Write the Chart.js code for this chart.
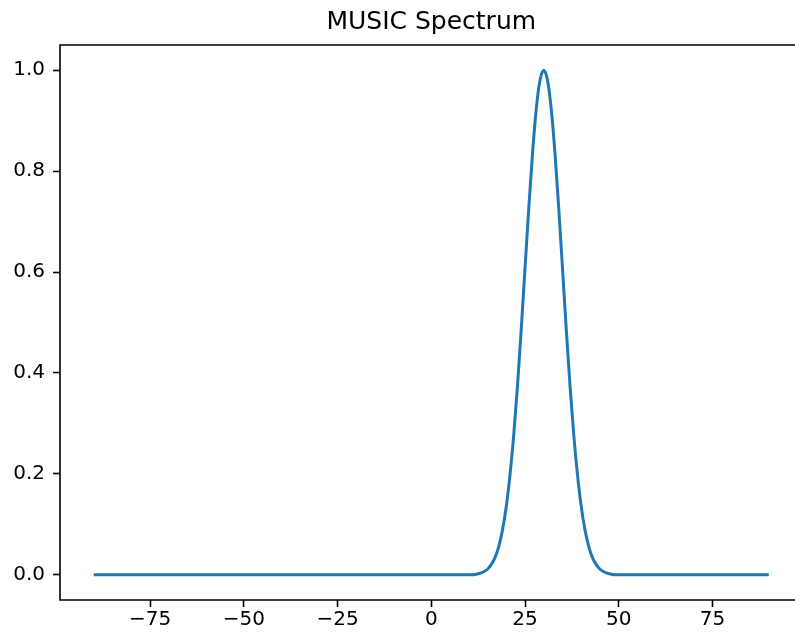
<!DOCTYPE html>
<html>
<head>
<meta charset="utf-8">
<title>MUSIC Spectrum</title>
<script src="https://cdn.jsdelivr.net/npm/chart.js@4"></script>
<style>
  html, body { margin: 0; padding: 0; background: #fff; overflow: hidden; }
  #wrap { width: 795px; height: 635px; overflow: hidden; position: relative; }
  #spectrumChart { position: absolute; left: 0; top: 0; }
</style>
</head>
<body>
<div id="wrap"><canvas id="spectrumChart" width="840" height="635"></canvas></div>
<script>
// angle grid (deg) and normalised spectrum
const angles = [-90, -80, -70, -60, -50, -40, -30, -20, -10, 0, 10,
  11, 12, 13, 14, 15, 16, 17, 18, 19, 20,
  21, 22, 23, 24, 25, 26, 27, 28, 29, 30,
  31, 32, 33, 34, 35, 36, 37, 38, 39, 40,
  41, 42, 43, 44, 45, 46, 47, 48, 49,
  50, 60, 70, 80, 90];
const spectrum = [0, 0, 0, 0, 0, 0, 0, 0, 0, 0, 0,
  0.000, 0.001, 0.003, 0.006, 0.011, 0.020, 0.034, 0.056, 0.089, 0.135,
  0.198, 0.278, 0.375, 0.487, 0.607, 0.726, 0.835, 0.923, 0.980, 1.000,
  0.980, 0.923, 0.835, 0.726, 0.607, 0.487, 0.375, 0.278, 0.198, 0.135,
  0.089, 0.056, 0.034, 0.020, 0.011, 0.006, 0.003, 0.001, 0.000,
  0, 0, 0, 0, 0];

const xTicks = [-75, -50, -25, 0, 25, 50, 75];
const yTicks = [0, 0.2, 0.4, 0.6, 0.8, 1.0];

const FONT = "'DejaVu Sans', sans-serif";
const INK = '#000';

// spines: top, left, bottom (the right one sits past the window edge)
const frame = {
  id: 'frame',
  afterDraw(chart) {
    const { ctx, chartArea: a } = chart;
    ctx.save();
    ctx.strokeStyle = INK;
    ctx.lineWidth = 1.6;
    ctx.beginPath();
    ctx.moveTo(a.right, a.top);
    ctx.lineTo(a.left, a.top);
    ctx.lineTo(a.left, a.bottom);
    ctx.lineTo(a.right, a.bottom);
    ctx.stroke();
    ctx.restore();
  }
};

const points = angles.map((a, i) => ({ x: a, y: spectrum[i] }));

new Chart(document.getElementById('spectrumChart'), {
  type: 'line',
  data: {
    datasets: [{
      data: points,
      borderColor: '#1f77b4',
      borderWidth: 3,
      pointRadius: 0,
      fill: false,
      cubicInterpolationMode: 'monotone'
    }]
  },
  options: {
    responsive: false,
    devicePixelRatio: 1,
    animation: false,
    layout: { padding: { left: 0, right: 37.5, top: 0, bottom: 0 } },
    plugins: {
      legend: { display: false },
      tooltip: { enabled: false },
      title: {
        display: true,
        fullSize: false,   // centre over the axes box, not the canvas
        text: 'MUSIC Spectrum',
        color: INK,
        font: { family: FONT, size: 25, weight: 'normal' },
        padding: { top: 7, bottom: 8 }
      }
    },
    scales: {
      x: {
        type: 'linear',
        min: -99,
        max: 99,
        afterBuildTicks: s => { s.ticks = xTicks.map(v => ({ value: v })); },
        afterFit: s => { s.height = 35; },
        grid: { display: true, drawOnChartArea: false, drawTicks: true, tickLength: 7, tickWidth: 1.6, tickColor: INK },
        border: { display: false },
        ticks: {
          color: INK,
          padding: 1,
          maxRotation: 0,
          font: { family: FONT, size: 20 },
          callback: v => String(v).replace('-', '\u2212')
        }
      },
      y: {
        min: -0.05,
        max: 1.05,
        afterBuildTicks: s => { s.ticks = yTicks.map(v => ({ value: v })); },
        afterFit: s => { s.width = 60; },
        grid: { display: true, drawOnChartArea: false, drawTicks: true, tickLength: 7, tickWidth: 1.6, tickColor: INK },
        border: { display: false },
        ticks: {
          color: INK,
          padding: 8,
          font: { family: FONT, size: 20 },
          callback: v => Number(v).toFixed(1)
        }
      }
    }
  },
  plugins: [frame]
});
</script>
</body>
</html>
